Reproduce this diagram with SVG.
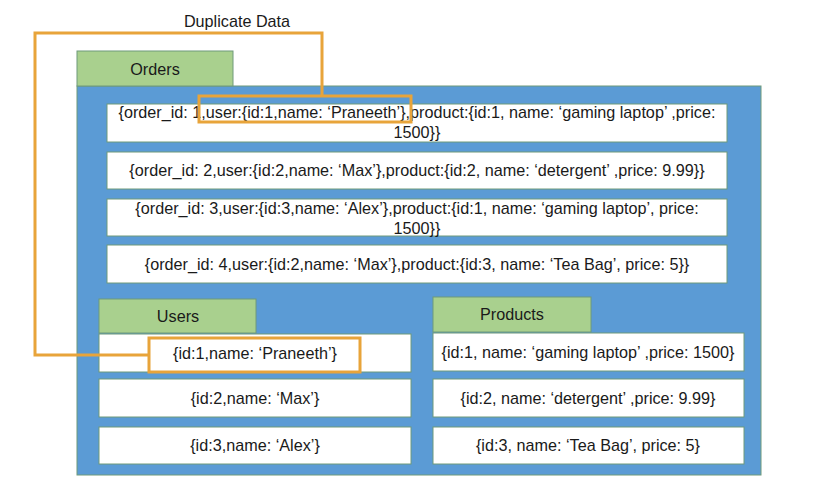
<svg xmlns="http://www.w3.org/2000/svg" width="833" height="504" viewBox="0 0 833 504">
<style>
text{font-family:"Liberation Sans",Arial,sans-serif;font-size:16.2px;fill:#1a1a1a;text-anchor:middle;dominant-baseline:central}
.tab{fill:#A9D08E;stroke:#6F9A7A;stroke-width:1}
.row{fill:#fff;stroke:#6F9A7A;stroke-width:1}
.hl{fill:none;stroke:#E8A43A;stroke-width:3}
</style>
<rect width="833" height="504" fill="#fff"/>
<g id="orders">
<rect x="77" y="86" width="684" height="389" fill="#5B9BD5" stroke="#6F9A7A"/>
<rect class="tab" x="77" y="51" width="156" height="35"/>
<text x="155" y="69">Orders</text>
</g>
<g id="order1"><rect class="row" x="107" y="104" width="620" height="38"/>
<text x="417" y="112">{order_id: 1,user:{id:1,name: ‘Praneeth’},product:{id:1, name: ‘gaming laptop’ ,price:</text>
<text x="417" y="132">1500}}</text></g>
<g id="order2"><rect class="row" x="107" y="152" width="620" height="37"/>
<text x="417" y="170">{order_id: 2,user:{id:2,name: ‘Max’},product:{id:2, name: ‘detergent’ ,price: 9.99}}</text></g>
<g id="order3"><rect class="row" x="107" y="199" width="620" height="37"/>
<text x="417" y="208">{order_id: 3,user:{id:3,name: ‘Alex’},product:{id:1, name: ‘gaming laptop’, price:</text>
<text x="417" y="228">1500}}</text></g>
<g id="order4"><rect class="row" x="107" y="245" width="620" height="38"/>
<text x="417" y="264">{order_id: 4,user:{id:2,name: ‘Max’},product:{id:3, name: ‘Tea Bag’, price: 5}}</text></g>
<g id="users"><rect class="tab" x="99" y="299" width="157" height="34"/>
<text x="178" y="316">Users</text></g>
<g id="user1"><rect class="row" x="99" y="334" width="312" height="38"/>
<text x="255" y="353">{id:1,name: ‘Praneeth’}</text></g>
<g id="user2"><rect class="row" x="99" y="379" width="312" height="38"/>
<text x="255" y="398">{id:2,name: ‘Max’}</text></g>
<g id="user3"><rect class="row" x="99" y="427" width="312" height="37"/>
<text x="255" y="445">{id:3,name: ‘Alex’}</text></g>
<g id="products"><rect class="tab" x="433" y="297" width="158" height="35"/>
<text x="512" y="314">Products</text></g>
<g id="product1"><rect class="row" x="433" y="333" width="311" height="38"/>
<text x="588" y="352">{id:1, name: ‘gaming laptop’ ,price: 1500}</text></g>
<g id="product2"><rect class="row" x="433" y="379" width="311" height="38"/>
<text x="588" y="398">{id:2, name: ‘detergent’ ,price: 9.99}</text></g>
<g id="product3"><rect class="row" x="433" y="427" width="311" height="37"/>
<text x="588" y="445">{id:3, name: ‘Tea Bag’, price: 5}</text></g>
<g id="connectors">
<rect class="hl" x="199" y="96" width="212" height="26"/>
<rect class="hl" x="149" y="338" width="211" height="34"/>
<polyline class="hl" points="322,96 322,33 35,33 35,355 149,355"/>
<text x="237" y="21">Duplicate Data</text>
</g>
</svg>
